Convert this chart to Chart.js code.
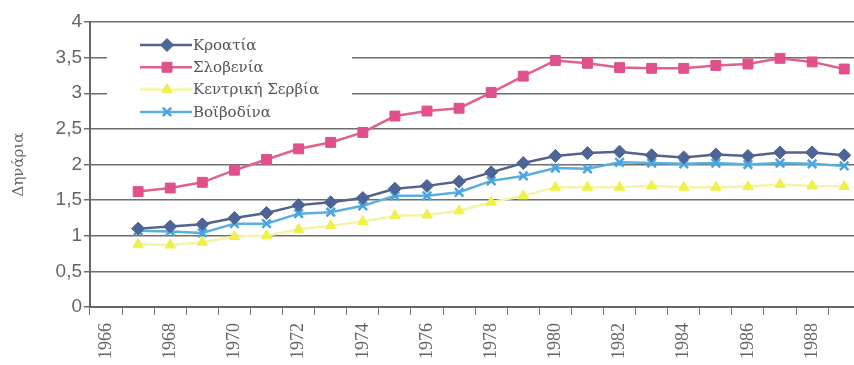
<!DOCTYPE html>
<html>
<head>
<meta charset="utf-8">
<script src="https://cdn.jsdelivr.net/npm/chart.js@4"></script>
<style>
  html, body { margin: 0; padding: 0; background: #fff; overflow: hidden; }
  #wrap { width: 874px; height: 365px; }
</style>
</head>
<body>
<div id="wrap"><canvas id="myChart" width="874" height="365"></canvas></div>
<script>
const years = ["1966", "1967", "1968", "1969", "1970", "1971", "1972", "1973", "1974", "1975", "1976", "1977",
	"1978", "1979", "1980", "1981", "1982", "1983", "1984", "1985", "1986", "1987", "1988", "1989"];
const croatia = [null, 1.1, 1.13, 1.16, 1.25, 1.32, 1.43, 1.47, 1.53, 1.66, 1.7, 1.76,
	1.89, 2.02, 2.12, 2.16, 2.18, 2.13, 2.1, 2.14, 2.12, 2.17, 2.17, 2.13];
const slovenia = [null, 1.62, 1.67, 1.75, 1.92, 2.07, 2.22, 2.31, 2.45, 2.68, 2.75, 2.79,
	3.01, 3.24, 3.46, 3.42, 3.36, 3.35, 3.35, 3.39, 3.41, 3.49, 3.44, 3.34];
const centralSerbia = [null, 0.88, 0.87, 0.91, 0.99, 1.0, 1.09, 1.14, 1.2, 1.28, 1.29, 1.35,
	1.47, 1.56, 1.68, 1.68, 1.68, 1.7, 1.68, 1.68, 1.69, 1.72, 1.7, 1.69];
const vojvodina = [null, 1.07, 1.06, 1.04, 1.17, 1.17, 1.31, 1.33, 1.42, 1.56, 1.56, 1.61,
	1.77, 1.84, 1.95, 1.94, 2.03, 2.02, 2.01, 2.02, 2.0, 2.02, 2.01, 1.98];
const yTicks = [0, 0.5, 1, 1.5, 2, 2.5, 3, 3.5, 4];

const makeSet = (label, values, line, fill, style, radius) => ({
	label: label,
	data: values,
	borderColor: line,
	backgroundColor: fill,
	pointBorderColor: fill,
	pointBackgroundColor: fill,
	pointStyle: style,
	pointRadius: radius,
	pointBorderWidth: style === "crossRot" ? 2.5 : 1,
	borderWidth: 2.5,
	tension: 0,
});

const datasets = [
	makeSet("Κροατία", croatia, "#52648a", "#4d6496", "rectRot", 6.5),
	makeSet("Σλοβενία", slovenia, "#e0608e", "#e0508a", "rect", 7),
	makeSet("Κεντρική Σερβία", centralSerbia, "#f4f4a8", "#f0f04a", "triangle", 6),
	makeSet("Βοϊβοδίνα", vojvodina, "#5aaee0", "#4aa4e0", "crossRot", 6),
];
// first one drawn on top
datasets.forEach((d, i) => (d.order = i));

const legendBox = {
	id: "legendBox",
	afterDraw(chart) {
		const ctx = chart.ctx;
		ctx.save();
		ctx.fillStyle = "#fff";
		ctx.fillRect(107, 31, 245, 91);
		chart.data.datasets.forEach((d, i) => {
			const y = 45 + i * 22.3;
			ctx.strokeStyle = d.borderColor;
			ctx.lineWidth = 2.5;
			ctx.beginPath();
			ctx.moveTo(140, y);
			ctx.lineTo(192, y);
			ctx.stroke();
			ctx.fillStyle = d.pointBackgroundColor;
			ctx.strokeStyle = d.pointBorderColor;
			ctx.lineWidth = d.pointBorderWidth;
			Chart.helpers.drawPoint(ctx, { pointStyle: d.pointStyle, radius: d.pointRadius, rotation: 0, borderWidth: d.pointBorderWidth }, 167, y);
			ctx.font = '15px "DejaVu Serif", serif';
			ctx.textAlign = "left";
			ctx.textBaseline = "middle";
			ctx.fillStyle = "#555";
			ctx.fillText(d.label, 193, y + 1);
		});
		ctx.restore();
	},
};

new Chart(document.getElementById("myChart"), {
	type: "line",
	data: { labels: years, datasets: datasets },
	plugins: [legendBox],
	options: {
		responsive: false,
		animation: false,
		layout: { padding: { top: 22, right: 8 } },
		plugins: { legend: { display: false }, tooltip: { enabled: false } },
		scales: {
			x: {
				offset: true,
				grid: { offset: true, drawOnChartArea: false, drawTicks: true, tickLength: 8, color: "#777", lineWidth: 1 },
				border: { color: "#666", width: 2 },
				ticks: {
					autoSkip: false,
					minRotation: 90,
					maxRotation: 90,
					padding: 8,
					color: "#666",
					font: { family: "'Liberation Serif'", size: 18 },
					callback: function (v, i) {
						const y = years[i];
						return Number(y) % 2 === 0 ? y : "";
					},
				},
				afterFit: (s) => { s.height = 58; },
			},
			y: {
				min: 0,
				max: 4,
				afterBuildTicks: (s) => { s.ticks = yTicks.map((v) => ({ value: v })); },
				grid: { color: "#6e6e6e", lineWidth: 1.5, tickLength: 6 },
				border: { color: "#666", width: 2 },
				ticks: {
					padding: 2,
					color: "#666",
					font: { family: "'Liberation Sans'", size: 19 },
					callback: (v) => String(v).replace(".", ","),
				},
				title: {
					display: true,
					text: "Δηνάρια",
					color: "#666",
					font: { family: "'DejaVu Serif'", size: 15 },
					padding: { top: 10, bottom: 4 },
				},
				afterFit: (s) => { s.width = 90; },
			},
		},
	},
});
</script>
</body>
</html>
